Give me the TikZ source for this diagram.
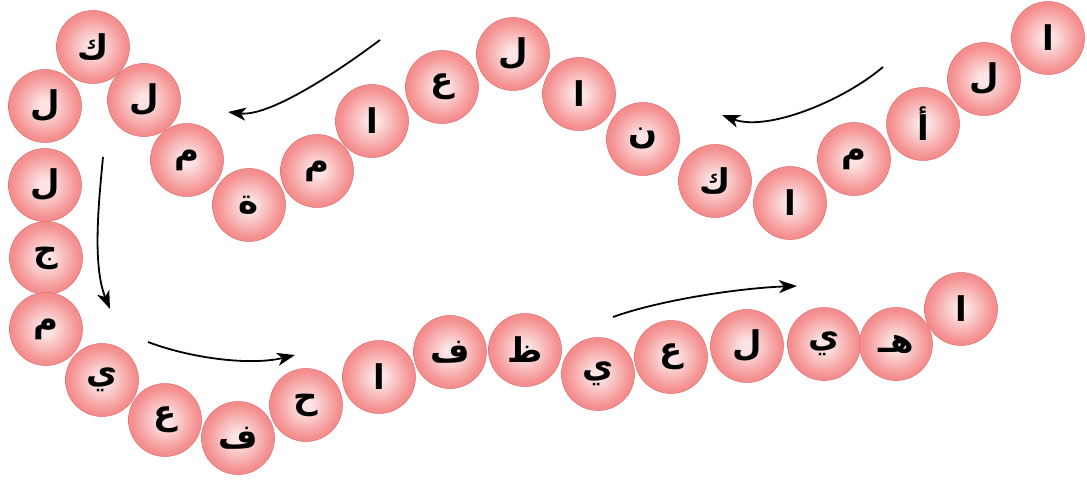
\documentclass[tikz,border=0pt]{standalone}
\usepackage{fontspec}
\newfontfamily\arabicfont[Script=Arabic]{DejaVu Sans}
\TeXXeTstate=1
\usetikzlibrary{arrows.meta}
\definecolor{beadC}{RGB}{252,228,228}
\definecolor{beadM}{RGB}{245,145,145}
\definecolor{beadE}{RGB}{237,112,112}
\definecolor{beadR}{RGB}{228,100,100}
\definecolor{beadO}{RGB}{224,104,104}
\pgfdeclareradialshading{bead}{\pgfpoint{0bp}{0bp}}{color(0bp)=(beadC); color(4bp)=(beadC); color(22bp)=(beadM); color(46bp)=(beadE); color(50bp)=(beadR)}
\begin{document}
\begin{tikzpicture}[x=1pt,y=-1pt,
  bead/.style={circle, minimum size=73pt, inner sep=0pt, draw=beadO, line width=0.5pt, shading=bead,
    font=\arabicfont\bfseries\fontsize{34}{34}\selectfont},
  flow/.style={line width=1.8pt, -{Stealth[length=18pt,width=13pt,inset=5pt]}}]
\useasboundingbox (0,0) rectangle (1087,481);
\fill[white] (0,0) rectangle (1087,481);
% beads
\node[bead] (b1)  at (1048,38)  {\beginR ا\endR};
\node[bead] (b2)  at (984,79)   {\beginR ل\endR};
\node[bead] (b3)  at (923,124)  {\beginR أ\endR};
\node[bead] (b4)  at (854,159)  {\beginR م\endR};
\node[bead] (b5)  at (790,203)  {\beginR ا\endR};
\node[bead] (b6)  at (715,181)  {\beginR ك\endR};
\node[bead] (b7)  at (643,139)  {\beginR ن\endR};
\node[bead] (b8)  at (579,94)   {\beginR ا\endR};
\node[bead] (b9)  at (513,54)   {\beginR ل\endR};
\node[bead] (b10) at (442,87)   {\beginR ع\endR};
\node[bead] (b11) at (372,121)  {\beginR ا\endR};
\node[bead] (b12) at (317,171)  {\beginR م\endR};
\node[bead] (b13) at (249,205)  {\beginR ة\endR};
\node[bead] (b14) at (187,160)  {\beginR م\endR};
\node[bead] (b15) at (144,100)  {\beginR ل\endR};
\node[bead] (b16) at (93,47)    {\beginR ك\endR};
\node[bead] (b17) at (45,106)   {\beginR ل\endR};
\node[bead] (b18) at (45,185)   {\beginR ل\endR};
\node[bead] (b19) at (46,258)   {\beginR ج\endR};
\node[bead] (b20) at (46,329)   {\beginR م\endR};
\node[bead] (b21) at (102,380)  {\beginR ي\endR};
\node[bead] (b22) at (165,420)  {\beginR ع\endR};
\node[bead] (b23) at (238,438)  {\beginR ف\endR};
\node[bead] (b24) at (306,405)  {\beginR ح\endR};
\node[bead] (b25) at (379,377)  {\beginR ا\endR};
\node[bead] (b26) at (450,352)  {\beginR ف\endR};
\node[bead] (b27) at (525,350)  {\beginR ظ\endR};
\node[bead] (b28) at (598,374)  {\beginR ي\endR};
\node[bead] (b29) at (671,357)  {\beginR ع\endR};
\node[bead] (b30) at (747,346)  {\beginR ل\endR};
\node[bead] (b31) at (824,344)  {\beginR ي\endR};
\node[bead] (b32) at (896,344)  {\beginR هـ\endR};
\node[bead] (b33) at (961,309)  {\beginR ا\endR};
% arrows
\coordinate (aS) at (883,67);  \coordinate (aE) at (722,115);
\coordinate (bS) at (380,40);  \coordinate (bE) at (228,112);
\coordinate (cS) at (103,157); \coordinate (cE) at (110,309);
\coordinate (dS) at (148,342); \coordinate (dE) at (295,355);
\coordinate (eS) at (613,317); \coordinate (eE) at (797,286);
\draw[flow] (aS) .. controls (843,101) and (767,132) .. (aE);
\draw[flow] (bS) .. controls (340,70) and (270,117) .. (bE);
\draw[flow] (cS) .. controls (99,200) and (92,265) .. (cE);
\draw[flow] (dS) .. controls (190,358) and (250,366) .. (dE);
\draw[flow] (eS) .. controls (660,300) and (740,288) .. (eE);
\end{tikzpicture}
\end{document}
